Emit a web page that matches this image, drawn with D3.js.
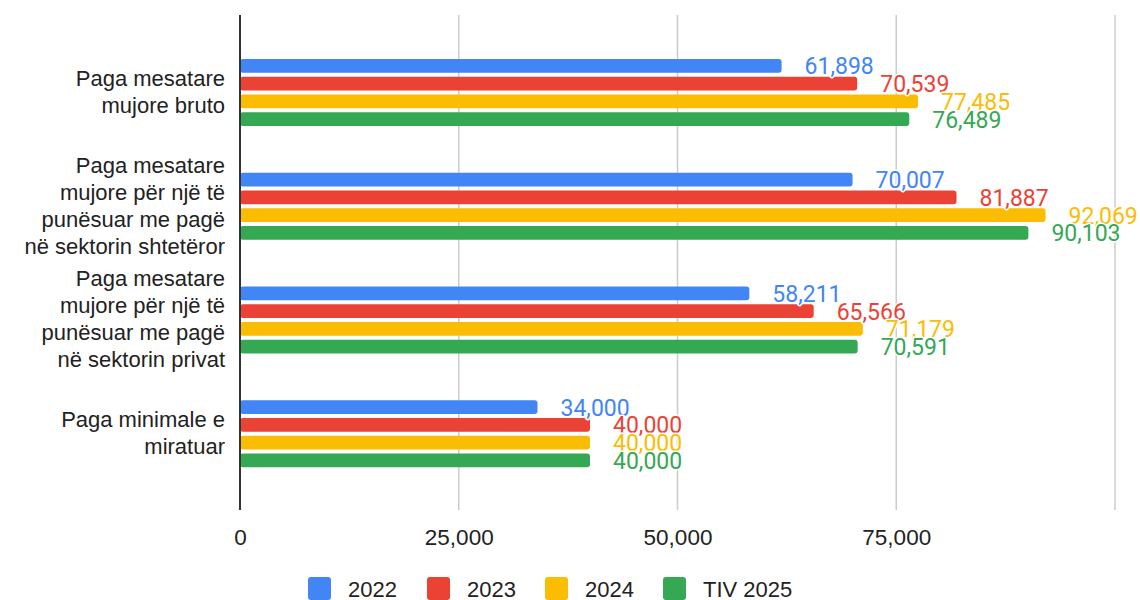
<!DOCTYPE html>
<html><head><meta charset="utf-8">
<script src="https://cdn.jsdelivr.net/npm/d3@7"></script>
<style>
html,body{margin:0;padding:0;background:#fff;}
svg{display:block;font-family:"Liberation Sans",Arial,sans-serif;}
</style></head>
<body>
<svg id="chart" width="1140" height="600"></svg>
<script>
const categories = [
  ["Paga mesatare","mujore bruto"],
  ["Paga mesatare","mujore për një të","punësuar me pagë","në sektorin shtetëror"],
  ["Paga mesatare","mujore për një të","punësuar me pagë","në sektorin privat"],
  ["Paga minimale e","miratuar"]
];
const seriesNames = ["2022","2023","2024","TIV 2025"];
const values2022 = [61898, 70007, 58211, 34000];
const values2023 = [70539, 81887, 65566, 40000];
const values2024 = [77485, 92069, 71179, 40000];
const valuesTIV2025 = [76489, 90103, 70591, 40000];
const tickValues = [0, 25000, 50000, 75000, 100000];
const tickLabels = ["0","25,000","50,000","75,000",""];
const colors = ["#4285F4","#EA4335","#FBBC04","#34A853"];

const series = [values2022, values2023, values2024, valuesTIV2025];
const svg = d3.select("#chart");
const catKeys = categories.map((c,i)=>"c"+i);

const x = d3.scaleLinear().domain([0,100000]).range([240,1115]);
const y = d3.scaleBand().domain(catKeys).range([35,490]).padding(0);
const yInner = d3.scaleBand().domain(d3.range(4)).range([24,91]).paddingInner(0.22).paddingOuter(0);

const gridTop = 15, gridBottom = 510;
// gridlines
svg.append("g").selectAll("line").data(tickValues.slice(1)).join("line")
  .attr("x1",d=>x(d)).attr("x2",d=>x(d)).attr("y1",gridTop).attr("y2",gridBottom)
  .attr("stroke","#cccccc").attr("stroke-width",1.5);

// bars
const groups = svg.append("g").selectAll("g").data(catKeys).join("g")
  .attr("transform",d=>`translate(0,${y(d)})`);
groups.each(function(k,ci){
  const g = d3.select(this);
  series.forEach((s,si)=>{
    g.append("rect")
      .attr("x",x(0)).attr("y",yInner(si))
      .attr("width",x(s[ci])-x(0)).attr("height",yInner.bandwidth())
      .attr("rx",3).attr("fill",colors[si]);
  });
});
// labels
groups.each(function(k,ci){
  const g = d3.select(this);
  series.forEach((s,si)=>{
    g.append("text")
      .attr("x",x(s[ci])+23).attr("y",yInner(si)+yInner.bandwidth()/2+1)
      .attr("dominant-baseline","central")
      .attr("font-family","Roboto,'Noto Sans',sans-serif")
      .attr("font-size",23).attr("fill",colors[si])
      .attr("stroke","#fff").attr("stroke-width",3).attr("paint-order","stroke")
      .attr("stroke-linejoin","round")
      .text(d3.format(",")(s[ci]));
  });
});

// axis zero line
svg.append("line").attr("x1",x(0)).attr("x2",x(0)).attr("y1",gridTop).attr("y2",gridBottom)
  .attr("stroke","#333").attr("stroke-width",2);

// category labels
const lh = 27;
svg.append("g").selectAll("text").data(categories).join("text")
  .attr("text-anchor","end").attr("font-size",22).attr("fill","#222")
  .each(function(lines,i){
    const cy = y(catKeys[i]) + y.bandwidth()/2;
    const t = d3.select(this);
    lines.forEach((l,j)=>{
      t.append("tspan").attr("x",225)
        .attr("y",cy + (j-(lines.length-1)/2)*lh)
        .attr("dominant-baseline","central").text(l);
    });
  });

// x axis tick labels
const xAxis = d3.axisBottom(x).tickValues(tickValues).tickSize(0)
  .tickFormat((d,i)=>tickLabels[i]);
const ax = svg.append("g").attr("transform",`translate(0,${gridBottom})`).call(xAxis);
ax.select(".domain").remove();
ax.selectAll("text").attr("font-size",22.5).attr("fill","#222")
  .attr("font-family","'Liberation Sans',Arial,sans-serif").attr("dy",null).attr("y",27)
  .attr("dominant-baseline","central");

// legend
const legendX = [308,427,545,663];
const lg = svg.append("g").selectAll("g").data(seriesNames).join("g")
  .attr("transform",(d,i)=>`translate(${legendX[i]},577)`);
lg.append("rect").attr("width",23).attr("height",23).attr("rx",3).attr("fill",(d,i)=>colors[i]);
lg.append("text").attr("x",40).attr("y",12).attr("dominant-baseline","central")
  .attr("font-size",22).attr("fill","#222").text(d=>d);
</script>
</body></html>
